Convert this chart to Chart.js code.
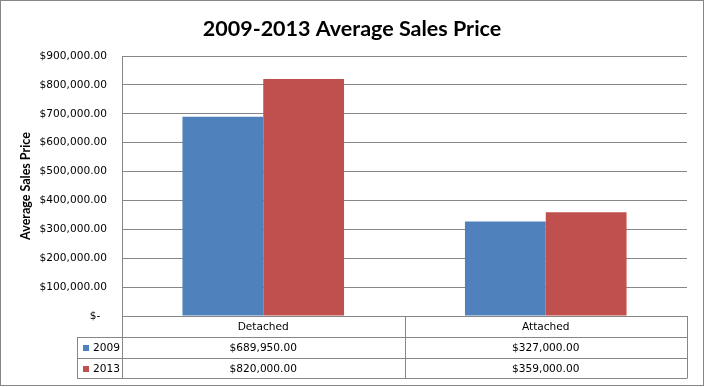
<!DOCTYPE html>
<html>
<head>
<meta charset="utf-8">
<script src="https://cdn.jsdelivr.net/npm/chart.js@4.4.1/dist/chart.umd.min.js"></script>
<style>
  html, body { margin: 0; padding: 0; background: #fff; }
  #wrap { width: 704px; height: 387px; position: relative; }
</style>
</head>
<body>
<div id="wrap"><canvas id="salesChart" width="704" height="387"></canvas></div>
<script>
// chart data
const categories = ['Detached', 'Attached'];
const seriesNames = ['2009', '2013'];
const values2009 = [689950, 327000];
const values2013 = [820000, 359000];
const seriesColors = ['#4F81BD', '#C0504D'];

const tickFont = { family: 'DejaVu Sans', size: 10.6 };
const lineGray = '#868686';

function money(v) {
    if (v === 0) return '$-  ';
    return '$' + v.toLocaleString('en-US', { minimumFractionDigits: 2, maximumFractionDigits: 2 });
}

// draws the title, outer border and the data table under the plot
const tablePlugin = {
    id: 'dataTable',
    afterDraw(chart) {
        const ctx = chart.ctx;
        const area = chart.chartArea;
        const x = chart.scales.x;
        const rowH = 21;
        const top = area.bottom;
        const tableLeft = 77;
        const rows = [top, top + rowH, top + rowH * 2, top + rowH * 3 - 1];
        const values = [values2009, values2013];

        ctx.save();
        ctx.strokeStyle = lineGray;
        ctx.lineWidth = 1;

        // outer frame
        ctx.strokeRect(0.5, 0.5, 703, 385);

        // horizontal lines
        ctx.beginPath();
        ctx.moveTo(area.left, rows[0] + 0.5);
        ctx.lineTo(area.right, rows[0] + 0.5);
        for (let i = 1; i < rows.length; i++) {
            ctx.moveTo(tableLeft, rows[i] + 0.5);
            ctx.lineTo(area.right, rows[i] + 0.5);
        }
        // vertical lines
        ctx.moveTo(tableLeft + 0.5, rows[1]);
        ctx.lineTo(tableLeft + 0.5, rows[3] + 0.5);
        const catW = (area.right - area.left) / categories.length;
        for (let i = 0; i <= categories.length; i++) {
            const vx = Math.round(area.left + catW * i) + 0.5;
            ctx.moveTo(vx, rows[0]);
            ctx.lineTo(vx, rows[3] + 0.5);
        }
        ctx.stroke();

        // text
        ctx.fillStyle = '#000';
        ctx.font = tickFont.size + 'px ' + tickFont.family;
        ctx.textBaseline = 'middle';
        ctx.textAlign = 'center';
        categories.forEach((c, i) => {
            const cx = x.getPixelForValue(i);
            ctx.fillText(c, cx, rows[0] + rowH / 2 + 1);
            values.forEach((arr, s) => {
                ctx.fillText(money(arr[i]), cx, rows[s + 1] + rowH / 2 + 1);
            });
        });

        // legend keys in the row headers
        ctx.textAlign = 'left';
        seriesNames.forEach((name, s) => {
            const cy = rows[s + 1] + rowH / 2;
            ctx.fillStyle = seriesColors[s];
            ctx.fillRect(83, Math.round(cy - 3), 6, 6);
            ctx.fillStyle = '#000';
            ctx.fillText(name, 93, cy + 1);
        });

        // title
        ctx.font = 'bold 21.5px Lato';
        ctx.textAlign = 'center';
        ctx.fillText('2009-2013 Average Sales Price', 352, 29);
        ctx.restore();
    }
};

const ctx = document.getElementById('salesChart').getContext('2d');
const salesChart = new Chart(ctx, {
    type: 'bar',
    data: {
        labels: categories,
        datasets: [
            {
                label: seriesNames[0],
                data: values2009,
                backgroundColor: seriesColors[0],
                categoryPercentage: 0.572,
                barPercentage: 1.0
            },
            {
                label: seriesNames[1],
                data: values2013,
                backgroundColor: seriesColors[1],
                categoryPercentage: 0.572,
                barPercentage: 1.0
            }
        ]
    },
    options: {
        responsive: false,
        animation: false,
        layout: {
            padding: { top: 56, right: 17, bottom: 71, left: 0 }
        },
        plugins: {
            legend: { display: false },
            title: { display: false },
            tooltip: { enabled: false }
        },
        scales: {
            x: {
                display: false,
                offset: true
            },
            y: {
                min: 0,
                max: 900000,
                ticks: {
                    stepSize: 100000,
                    color: '#000',
                    font: tickFont,
                    padding: 15,
                    callback: (v) => money(v)
                },
                grid: {
                    color: lineGray,
                    drawTicks: false
                },
                border: { color: lineGray },
                title: {
                    display: true,
                    text: 'Average Sales Price',
                    color: '#000',
                    font: { family: 'Lato', size: 12.5, weight: 'bold' },
                    padding: { top: 18, bottom: 0 }
                },
                afterFit: (scale) => { scale.width = 122; }
            }
        }
    },
    plugins: [tablePlugin]
});
</script>
</body>
</html>
